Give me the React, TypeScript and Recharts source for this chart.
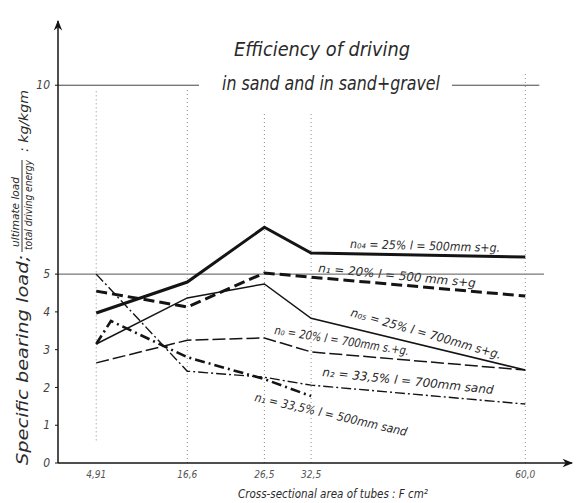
import React from "react";
import {
  LineChart,
  Line,
  XAxis,
  YAxis,
  ReferenceLine,
} from "recharts";

// cross-sectional area of tubes, cm2
const areas = [4.91, 16.6, 26.5, 32.5, 60];
const areaLabels = ["4,91", "16,6", "26,5", "32,5", "60,0"];
const yTicks = [0, 1, 2, 3, 4, 5, 10];

// specific bearing load, kg/kgm
const n04sg500 = [3.97, 4.79, 6.24, 5.56, 5.45];
const n1sg500 = [4.55, 4.13, 5.03, 4.92, 4.42];
const n05sg700 = [3.15, 4.37, 4.74, 3.83, 2.46];
const n0sg700 = [2.65, 3.25, 3.31, 2.94, 2.46];
const n2sand700 = [5.0, 2.43, 2.27, 2.06, 1.56];
const n1sand500Areas = [4.91, 6.8, 16.6, 26.5, 32.5];
const n1sand500 = [3.15, 3.76, 2.8, 2.22, 1.77];

const toPoints = (xs: number[], ys: number[]) =>
  xs.map((x, i) => ({ x, y: ys[i] }));

const FONT = "'DejaVu Sans Condensed', 'Liberation Sans Narrow', 'DejaVu Sans', sans-serif";
const INK = "#141414";
const GRID = "#8a8a8a";

const lbl = {
  fontFamily: FONT,
  fontStyle: "italic" as const,
  fill: "#2a2a2a",
};

export default function App() {
  return (
    <div style={{ position: "absolute", left: 0, top: 0, background: "#fff" }}>
      <LineChart
        width={577}
        height={503}
        margin={{ top: 21, right: 5, bottom: 0, left: 0 }}
      >
        <defs>
          <marker id="arrow" viewBox="0 0 10 10" refX="9" refY="5" markerWidth="9" markerHeight="7" orient="auto-start-reverse">
            <path d="M0,1 L10,5 L0,9 L3,5 z" fill={INK} />
          </marker>
        </defs>
        <XAxis
          type="number"
          dataKey="x"
          domain={[0, 66]}
          ticks={areas}
          allowDataOverflow
          height={40}
          tickLine={false}
          tickFormatter={(v: number) => areaLabels[areas.indexOf(v)] ?? ""}
          tick={{ fontSize: 10, fill: "#555", fontFamily: FONT, fontStyle: "italic" }}
          tickMargin={2}
          axisLine={{ stroke: INK, strokeWidth: 1.5, markerEnd: "url(#arrow)" }}
        />
        <YAxis
          type="number"
          domain={[0, 11.7]}
          ticks={yTicks}
          allowDataOverflow
          width={58}
          tickSize={3}
          tickLine={{ stroke: INK }}
          tick={{ fontSize: 12, fill: "#444", fontFamily: FONT, fontStyle: "italic" }}
          tickMargin={5}
          axisLine={{ stroke: INK, strokeWidth: 1.5, markerStart: "url(#arrow)" }}
        />

        <ReferenceLine segment={[{ x: 0, y: 10 }, { x: 18.1, y: 10 }]} stroke="#444" strokeWidth={1} />
        <ReferenceLine segment={[{ x: 50.6, y: 10 }, { x: 61.8, y: 10 }]} stroke="#444" strokeWidth={1} />
        <ReferenceLine segment={[{ x: 0, y: 5 }, { x: 62.4, y: 5 }]} stroke="#555" strokeWidth={1} />

        <ReferenceLine segment={[{ x: areas[0], y: 0.6 }, { x: areas[0], y: 9.9 }]} stroke={GRID} strokeDasharray="1 3" />
        <ReferenceLine segment={[{ x: areas[1], y: 0 }, { x: areas[1], y: 9.9 }]} stroke={GRID} strokeDasharray="1 3" />
        <ReferenceLine segment={[{ x: areas[2], y: 0 }, { x: areas[2], y: 9.3 }]} stroke={GRID} strokeDasharray="1 3" />
        <ReferenceLine segment={[{ x: areas[3], y: 0 }, { x: areas[3], y: 9.3 }]} stroke={GRID} strokeDasharray="1 3" />
        <ReferenceLine segment={[{ x: areas[4], y: 0 }, { x: areas[4], y: 10.3 }]} stroke={GRID} strokeDasharray="1 3" />

        <Line data={toPoints(areas, n04sg500)} dataKey="y" type="linear" stroke={INK} strokeWidth={3} dot={false} isAnimationActive={false} />
        <Line data={toPoints(areas, n1sg500)} dataKey="y" type="linear" stroke={INK} strokeWidth={3} strokeDasharray="11 5" dot={false} isAnimationActive={false} />
        <Line data={toPoints(areas, n05sg700)} dataKey="y" type="linear" stroke={INK} strokeWidth={1.5} dot={false} isAnimationActive={false} />
        <Line data={toPoints(areas, n0sg700)} dataKey="y" type="linear" stroke={INK} strokeWidth={1.5} strokeDasharray="13 4" dot={false} isAnimationActive={false} />
        <Line data={toPoints(areas, n2sand700)} dataKey="y" type="linear" stroke={INK} strokeWidth={1.4} strokeDasharray="10 3 2 3" dot={false} isAnimationActive={false} />
        <Line data={toPoints(n1sand500Areas, n1sand500)} dataKey="y" type="linear" stroke={INK} strokeWidth={2.6} strokeDasharray="10 4 2 4" dot={false} isAnimationActive={false} />

        {/* title */}
        <text x={322} y={56} textAnchor="middle" fontSize={19} textLength={176} lengthAdjust="spacingAndGlyphs" style={lbl}>
          Efficiency of driving
        </text>
        <text x={331} y={90} textAnchor="middle" fontSize={19} textLength={218} lengthAdjust="spacingAndGlyphs" style={lbl}>
          in sand and in sand+gravel
        </text>

        {/* y axis title with fraction */}
        <g transform="rotate(-90 0 0)">
          <text x={-465} y={28} fontSize={15} textLength={210} lengthAdjust="spacingAndGlyphs" style={lbl}>
            Specific bearing load;
          </text>
          <text x={-212} y={19} textAnchor="middle" fontSize={10} textLength={70} lengthAdjust="spacingAndGlyphs" style={lbl}>
            ultimate load
          </text>
          <line x1={-252} x2={-160} y1={22} y2={22} stroke="#333" strokeWidth={1} />
          <text x={-205} y={32} textAnchor="middle" fontSize={10} textLength={90} lengthAdjust="spacingAndGlyphs" style={lbl}>
            total driving energy
          </text>
          <text x={-152} y={28} fontSize={13} textLength={62} lengthAdjust="spacingAndGlyphs" style={lbl}>
            : kg/kgm
          </text>
        </g>

        {/* x axis title */}
        <text x={333} y={498} textAnchor="middle" fontSize={13} textLength={190} lengthAdjust="spacingAndGlyphs" style={lbl}>
          Cross-sectional area of tubes : F cm²
        </text>

        {/* series labels */}
        <text x={350} y={248} fontSize={12} textLength={150} lengthAdjust="spacingAndGlyphs" transform="rotate(1.5 350 248)" style={lbl}>
          n₀₄ = 25% l = 500mm  s+g.
        </text>
        <text x={318} y={272} fontSize={12} textLength={158} lengthAdjust="spacingAndGlyphs" transform="rotate(5.5 318 272)" style={lbl}>
          n₁ = 20% l = 500 mm  s+g
        </text>
        <text x={350} y={316} fontSize={12} textLength={156} lengthAdjust="spacingAndGlyphs" transform="rotate(16 350 316)" style={lbl}>
          n₀₅ = 25% l = 700mm  s+g.
        </text>
        <text x={274} y={334} fontSize={12} textLength={136} lengthAdjust="spacingAndGlyphs" transform="rotate(9 274 334)" style={lbl}>
          n₀ = 20% l = 700mm  s.+g.
        </text>
        <text x={322} y={376} fontSize={12} textLength={172} lengthAdjust="spacingAndGlyphs" transform="rotate(6 322 376)" style={lbl}>
          n₂ = 33,5% l = 700mm  sand
        </text>
        <text x={254} y={401} fontSize={12} textLength={156} lengthAdjust="spacingAndGlyphs" transform="rotate(13 254 401)" style={lbl}>
          n₁ = 33,5% l = 500mm sand
        </text>
      </LineChart>
    </div>
  );
}
